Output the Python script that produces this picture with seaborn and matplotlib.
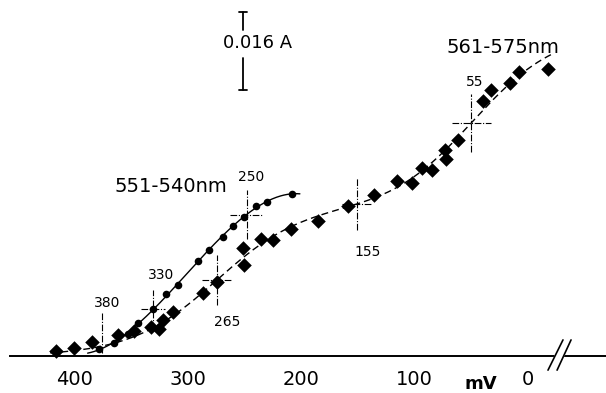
import numpy as np
import pandas as pd
import seaborn as sns
import matplotlib
matplotlib.use('Agg')
import matplotlib.pyplot as plt

# potentials (mV) and absorbance (mA units, 16 mA = 0.016 A)
cyt_c_mv = [378, 365, 352, 344, 330, 319, 308, 291, 281, 269, 260, 250, 240, 230, 208]
cyt_c_abs = [1.4, 2.7, 4.5, 6.8, 9.6, 12.7, 14.6, 19.5, 21.7, 24.4, 26.7, 28.5, 30.8, 31.6, 33.2]

cyt_b_mv = [416, 400, 384, 361, 347, 332, 325, 322, 313, 286, 274, 250, 251, 235, 225, 209,
            185, 159, 136, 115, 102, 93, 85, 73, 72, 62, 40, 33, 16, 8, -18]
cyt_b_abs = [1.0, 1.6, 2.9, 4.3, 5.1, 5.9, 5.5, 7.4, 9.0, 12.9, 15.2, 18.7, 22.2, 24.0, 23.8, 26.1,
             27.7, 30.8, 33.0, 35.9, 35.5, 38.6, 38.2, 42.3, 40.4, 44.3, 52.3, 54.6, 56.0, 58.3, 58.9]

# midpoint potentials marked with crosses
cyt_c_em = [375, 330, 248]
cyt_c_em_labels = ['380', '330', '250']
cyt_b_em = [274, 151, 50]
cyt_b_em_labels = ['265', '155', '55']


def nernst_fit(mv, absb, ems, width):
    # sum of Nernst-shaped waves, amplitudes by least squares
    def basis(e):
        return np.column_stack([1.0 / (1.0 + np.exp((e - em) / width)) for em in ems])

    coef, *_ = np.linalg.lstsq(basis(np.asarray(mv, float)), np.asarray(absb, float), rcond=None)
    return lambda e: basis(np.atleast_1d(np.asarray(e, float))) @ coef


def poly_fit(mv, absb, deg=3):
    p = np.polyfit(mv, absb, deg)
    return lambda e: np.polyval(p, np.atleast_1d(np.asarray(e, float)))


fit_c = poly_fit(cyt_c_mv, cyt_c_abs)
fit_b = nernst_fit(cyt_b_mv, cyt_b_abs, cyt_b_em, 38.0)

grid_c = np.linspace(388, 201, 200)
grid_b = np.linspace(421, -22, 300)
curve_c = pd.DataFrame({'mv': grid_c, 'abs': fit_c(grid_c)})
curve_b = pd.DataFrame({'mv': grid_b, 'abs': fit_b(grid_b)})
pts_c = pd.DataFrame({'mv': cyt_c_mv, 'abs': cyt_c_abs})
pts_b = pd.DataFrame({'mv': cyt_b_mv, 'abs': cyt_b_abs})

sns.set_style('white', {'text.color': 'black', 'xtick.color': 'black', 'axes.edgecolor': 'black',
                        'axes.labelcolor': 'black'})
plt.rcParams['font.family'] = ['DejaVu Sans']

fig = plt.figure(figsize=(6.06, 3.93), dpi=100)
ax = fig.add_axes([10 / 606, 37 / 393, 596 / 606, 356 / 393])

sns.lineplot(data=curve_c, x='mv', y='abs', sort=False, color='black', lw=1.0, ax=ax)
sns.lineplot(data=curve_b, x='mv', y='abs', sort=False, color='black', lw=1.0, ax=ax,
             dashes=False, linestyle=(0, (5, 3)))
sns.scatterplot(data=pts_c, x='mv', y='abs', marker='o', s=30, color='black',
                edgecolor='black', linewidth=0, ax=ax, clip_on=False, zorder=3)
sns.scatterplot(data=pts_b, x='mv', y='abs', marker='D', s=55, color='black',
                edgecolor='black', linewidth=0, ax=ax, clip_on=False, zorder=3)

ax.set_xlim(456.4, -68.7)
ax.set_ylim(0, 73.0)

# crosses at the midpoint potentials
cross_style = dict(color='black', lw=0.8, linestyle=(0, (6, 1.5, 1, 1.5)))
# 380: vertical tick only
ax.plot([cyt_c_em[0]] * 2, [0.6, 9.0], **cross_style)
ax.text(371, 10.9, cyt_c_em_labels[0], ha='center', va='center', fontsize=10)
# others: full crosses
crosses = [
    (cyt_c_em[1], fit_c(cyt_c_em[1])[0], 10.6, 4.0, cyt_c_em_labels[1], (323, 16.6)),
    (cyt_c_em[2], fit_c(cyt_c_em[2])[0], 14.5, 5.1, cyt_c_em_labels[2], (244, 36.7)),
    (cyt_b_em[0], fit_b(cyt_b_em[0])[0], 13.0, 5.2, cyt_b_em_labels[0], (265, 7.0)),
    (cyt_b_em[1], fit_b(cyt_b_em[1])[0], 13.0, 5.3, cyt_b_em_labels[1], (141, 21.3)),
    (cyt_b_em[2], fit_b(cyt_b_em[2])[0], 17.0, 6.0, cyt_b_em_labels[2], (47, 56.2)),
]
for x0, y0, dx, dy, lab, (tx, ty) in crosses:
    ax.plot([x0 + dx, x0 - dx], [y0, y0], **cross_style)
    ax.plot([x0, x0], [y0 - dy, y0 + dy], **cross_style)
    ax.text(tx, ty, lab, ha='center', va='center', fontsize=10)

# series labels
ax.text(315, 34.7, '551-540nm', ha='center', va='center', fontsize=14)
ax.text(22, 63.2, '561-575nm', ha='center', va='center', fontsize=14)

# scale bar 0.016 A
bar_x, bar_lo, bar_len = 251, 54.6, 16.0
ax.plot([bar_x, bar_x], [bar_lo, 61.1], color='black', lw=1.3)
ax.plot([bar_x, bar_x], [66.9, bar_lo + bar_len], color='black', lw=1.3)
for yy in (bar_lo, bar_lo + bar_len):
    ax.plot([bar_x + 3.5, bar_x - 3.5], [yy, yy], color='black', lw=1.3)
ax.text(238, 64.2, '0.016 A', ha='center', va='center', fontsize=13)

# axis styling
for side in ('left', 'top', 'right'):
    ax.spines[side].set_visible(False)
ax.spines['bottom'].set_linewidth(1.4)
ax.set_yticks([])
ax.set_xticks([400, 300, 200, 100, 0])
ax.tick_params(axis='x', direction='out', length=6, width=1.2, pad=4, labelsize=14,
               colors='black')
ax.set_xlabel('')
ax.set_ylabel('')
ax.text(42, -5.7, 'mV', ha='center', va='center', fontsize=13, fontweight='bold', clip_on=False)

# axis break
ax.fill([-17.6, -30.8, -37.9, -25.6], [-2.9, 3.3, 3.3, -2.9], color='white', zorder=4, clip_on=False)
ax.plot([-17.6, -30.8], [-2.9, 3.3], color='black', lw=1.2, clip_on=False, zorder=5)
ax.plot([-25.6, -37.9], [-2.9, 3.3], color='black', lw=1.2, clip_on=False, zorder=5)

fig.savefig('out.png', dpi=100)
